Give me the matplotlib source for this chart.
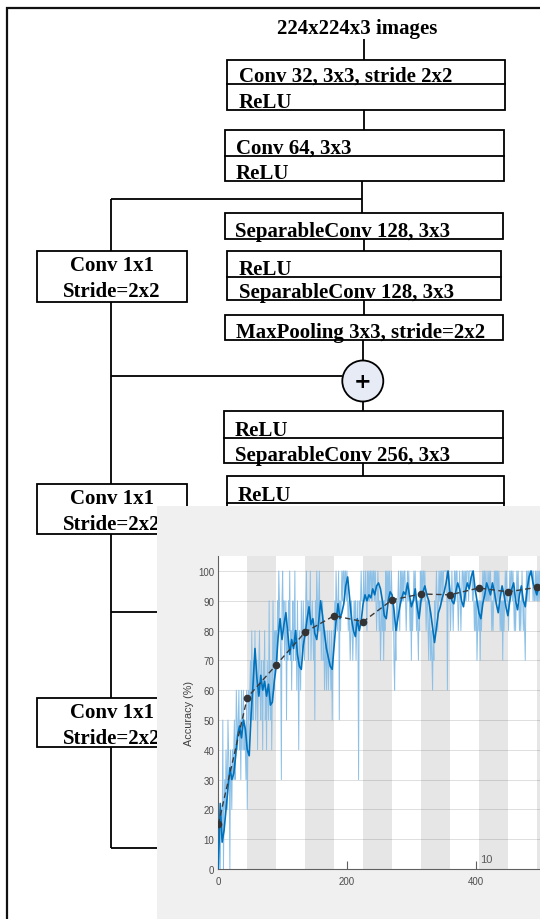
import numpy as np
import matplotlib
matplotlib.use("Agg")
import matplotlib.pyplot as plt
from matplotlib.patches import Rectangle, Circle

# ------------------------------------------------------------------ data
input_label = "224x224x3 images"
main_blocks = [
    ["Conv 32, 3x3, stride 2x2", "ReLU"],
    ["Conv 64, 3x3", "ReLU"],
    ["SeparableConv 128, 3x3"],
    ["ReLU", "SeparableConv 128, 3x3"],
    ["MaxPooling 3x3, stride=2x2"],
    ["ReLU", "SeparableConv 256, 3x3"],
    ["ReLU", "SeparableConv 256, 3x3"],
]
skip_labels = ["Conv 1x1", "Stride=2x2"]
add_symbol = "+"

iters_per_epoch = 45
raw_e01 = [0, 20, 10, 0, 20, 10, 10, 50, 0, 20, 30, 20, 40, 30, 20, 50, 40, 30, 0, 40,
           30, 20, 40, 30, 40, 50, 30, 40, 60, 50, 40, 50, 60, 40, 50, 30, 60, 40, 50, 60,
           40, 50, 40, 30, 60]
raw_e02 = [20, 40, 60, 50, 60, 70, 50, 80, 60, 50, 70, 60, 80, 50, 60, 70, 40, 60, 70, 80,
           60, 50, 70, 60, 40, 70, 60, 80, 50, 60, 40, 70, 60, 50, 90, 60, 50, 70, 40, 60,
           90, 70, 60, 80, 70]
raw_e03 = [80, 70, 90, 80, 100, 90, 80, 70, 30, 90, 100, 80, 90, 70, 80, 90, 50, 80, 70, 90,
           80, 100, 70, 80, 60, 80, 90, 70, 80, 100, 70, 80, 60, 90, 70, 40, 80, 70, 60, 90,
           80, 70, 90, 80, 70]
raw_e04 = [80, 90, 100, 80, 90, 70, 90, 80, 100, 70, 80, 90, 80, 70, 80, 50, 90, 80, 100, 90,
           80, 90, 100, 80, 90, 70, 80, 90, 70, 80, 60, 70, 80, 60, 70, 80, 60, 70, 80, 70,
           60, 80, 50, 70, 80]
raw_e05 = [80, 90, 80, 100, 90, 80, 90, 100, 50, 90, 80, 90, 100, 90, 100, 100, 90, 100, 100, 90,
           100, 90, 80, 90, 80, 70, 80, 90, 80, 70, 80, 90, 80, 90, 70, 80, 90, 80, 30, 90,
           80, 90, 100, 90, 90]
raw_e06 = [90, 100, 90, 90, 100, 90, 80, 100, 90, 100, 90, 100, 100, 90, 100, 90, 100, 100, 90, 100,
           90, 80, 90, 100, 90, 80, 90, 70, 80, 90, 80, 90, 70, 90, 80, 100, 90, 100, 90, 100,
           90, 100, 90, 90, 100]
raw_e07 = [90, 80, 90, 70, 60, 80, 70, 90, 80, 90, 100, 90, 80, 100, 90, 100, 90, 100, 90, 100,
           100, 90, 80, 90, 100, 90, 100, 90, 80, 90, 70, 90, 80, 90, 100, 90, 100, 90, 80, 90,
           80, 70, 90, 80, 100]
raw_e08 = [90, 100, 90, 100, 100, 90, 100, 90, 80, 90, 90, 80, 70, 90, 80, 70, 80, 70, 60, 80,
           70, 90, 80, 90, 100, 90, 80, 90, 100, 90, 100, 90, 100, 100, 90, 100, 100, 100, 100, 100,
           100, 60, 90, 100, 90]
raw_e09 = [90, 80, 90, 100, 90, 80, 90, 100, 100, 90, 100, 100, 90, 80, 90, 100, 90, 80, 90, 100,
           100, 90, 100, 90, 100, 90, 100, 100, 100, 90, 100, 100, 100, 100, 100, 90, 100, 90, 80, 90,
           80, 90, 70, 80, 90]
raw_e10 = [80, 90, 70, 90, 80, 90, 100, 90, 100, 100, 90, 100, 90, 90, 100, 90, 100, 90, 100, 90,
           80, 90, 80, 90, 100, 90, 100, 100, 90, 100, 90, 100, 90, 80, 90, 80, 90, 70, 90, 80,
           90, 100, 90, 100, 90]
raw_e11 = [90, 80, 90, 100, 90, 100, 100, 90, 100, 90, 80, 90, 80, 90, 100, 90, 100, 90, 80, 90,
           80, 90, 100, 90, 80, 90, 80, 70, 90, 100, 90, 100, 100, 90, 100, 100, 100, 100, 100, 90,
           100, 90, 90, 100, 90]
raw_e12 = [100, 90, 100, 90, 100, 90, 100, 100, 90, 100, 90, 100, 90, 100, 90, 100]

smooth_step = 3
smooth_acc = [0, 22, 9, 13, 20, 27, 34, 30, 32, 38, 45, 48, 44, 50, 47, 40, 38, 52, 62, 74,
              64, 58, 65, 60, 63, 58, 62, 55, 56, 63, 68, 78, 84, 77, 82, 86, 79, 72, 77, 74,
              80, 72, 68, 67, 75, 79, 84, 88, 82, 84, 79, 77, 83, 90, 85, 79, 74, 71, 68, 67,
              75, 83, 89, 84, 86, 89, 95, 98, 91, 84, 80, 78, 84, 80, 83, 89, 92, 90, 92, 91,
              94, 92, 95, 96, 94, 90, 85, 84, 90, 93, 92, 87, 80, 84, 88, 91, 93, 92, 96, 92,
              88, 90, 94, 88, 84, 90, 93, 95, 92, 90, 86, 81, 76, 81, 86, 88, 91, 93, 96, 100,
              93, 90, 89, 93, 96, 94, 90, 88, 93, 96, 94, 98, 100, 94, 90, 86, 84, 89, 92, 96,
              94, 92, 96, 93, 89, 86, 91, 95, 92, 88, 85, 90, 94, 96, 90, 87, 92, 95, 90, 88,
              94, 98, 100, 96, 94, 92, 95, 94, 96]

val_iter = [0, 45, 90, 135, 180, 225, 270, 315, 360, 405, 450, 495]
val_acc = [15, 57.5, 68.5, 79.5, 85, 83, 90.3, 92.3, 92, 94.3, 93, 94.5]

x_ticks = [0, 200, 400]
y_ticks = [0, 10, 20, 30, 40, 50, 60, 70, 80, 90, 100]
y_label = "Accuracy (%)"
epoch_label = "10"
epoch_label_index = 10

# ------------------------------------------------------------------ layout (pixels)
W, H = 540, 920
fig = plt.figure(figsize=(W / 100, H / 100), dpi=100)
fig.patch.set_facecolor("white")

dax = fig.add_axes([0, 0, 1, 1])
dax.set_xlim(0, W)
dax.set_ylim(H, 0)
dax.axis("off")

LW = 1.3
serif = dict(family="Liberation Serif", weight="bold", fontsize=15, color="black")

# frame
dax.plot([6.7, 6.7, W + 5], [H + 5, 9.3, 9.3], color="#111111", lw=1.6,
         solid_joinstyle="miter", clip_on=False)

dax.text(357, 34, input_label, ha="center", va="baseline", **serif)

main_geom = [
    (226.7, 505.0, [60.7, 85.0, 110.5]),
    (224.7, 503.5, [130.7, 156.7, 181.7]),
    (225.0, 503.3, [214.0, 240.0]),
    (226.7, 501.3, [252.3, 278.3, 301.0]),
    (225.0, 503.3, [315.7, 341.0]),
    (224.0, 502.7, [412.3, 439.0, 464.0]),
    (226.7, 504.3, [477.3, 504.0, 530.0]),
]
text_pad = [12, 11, 10, 12, 11, 11, 11]
for labels, (x0, x1, rows), pad in zip(main_blocks, main_geom, text_pad):
    dax.add_patch(Rectangle((x0, rows[0]), x1 - x0, rows[-1] - rows[0],
                            fill=False, ec="black", lw=LW))
    for i, lab in enumerate(labels):
        if i > 0:
            dax.plot([x0, x1], [rows[i], rows[i]], color="black", lw=LW)
        dax.text(x0 + pad, rows[i + 1] - 3, lab, ha="left", va="baseline", **serif)

skip_geom = [(252.3, 303.3), (485.0, 535.0), (699.0, 748.3)]
for top, bot in skip_geom:
    dax.add_patch(Rectangle((36.8, top), 186.6 - 36.8, bot - top,
                            fill=False, ec="black", lw=LW))
    dax.text(111.5, top + 19, skip_labels[0], ha="center", va="baseline", **serif)
    dax.text(111.5, top + 45, skip_labels[1], ha="center", va="baseline", **serif)

segments = [
    ([364, 364], [40, 60.7]),
    ([364, 364], [110.5, 130.7]),
    ([362, 362], [181.7, 214]),
    ([111.2, 362], [200, 200]),
    ([111.2, 111.2], [200, 252.3]),
    ([364, 364], [240, 252.3]),
    ([364, 364], [301, 315.7]),
    ([362.8, 362.8], [341, 362]),
    ([111.2, 111.2], [303.3, 485]),
    ([111.2, 342], [376.7, 376.7]),
    ([363, 363], [402, 412.3]),
    ([363, 363], [464, 477.3]),
    ([111.2, 111.2], [535, 699]),
    ([111.2, 363], [613.3, 613.3]),
    ([111.2, 111.2], [748.3, 849]),
    ([111.2, 363], [849, 849]),
]
for xs, ys in segments:
    dax.plot(xs, ys, color="black", lw=LW, solid_capstyle="butt")

dax.add_patch(Circle((362.8, 382), 20.5, fc="#e6ebf5", ec="black", lw=LW, zorder=3))
dax.text(362.8, 382.5, add_symbol, ha="center", va="center", family="DejaVu Sans",
         weight="bold", fontsize=15, zorder=4)

# ------------------------------------------------------------------ inset chart
inset_left, inset_top = 157, 507
bg = fig.add_axes([inset_left / W, 0, (W - inset_left) / W, (H - inset_top) / H])
bg.set_facecolor("#f0f0f0")
bg.set_xticks([])
bg.set_yticks([])
for s in bg.spines.values():
    s.set_visible(False)

px_per_iter = 128.7 / 200
px_per_pct = 2.98
x_max, y_max = 560, 105
ax_left, ax_bottom = 218.3, 870
ax = fig.add_axes([ax_left / W, (H - ax_bottom) / H,
                   x_max * px_per_iter / W, y_max * px_per_pct / H])
ax.set_facecolor("white")

n_epochs = x_max // iters_per_epoch + 1
for e in range(1, n_epochs, 2):
    ax.axvspan(e * iters_per_epoch, (e + 1) * iters_per_epoch, color="#e6e6e6", lw=0, zorder=0)

ax.set_axisbelow(True)
ax.yaxis.grid(True, color="#262626", alpha=0.15, lw=0.7)
ax.xaxis.grid(False)

raw_acc = (raw_e01 + raw_e02 + raw_e03 + raw_e04 + raw_e05 + raw_e06 + raw_e07 + raw_e08
           + raw_e09 + raw_e10 + raw_e11 + raw_e12)
ax.plot(np.arange(len(raw_acc)), raw_acc, color="#8cc0e6", lw=0.7, zorder=2)
ax.plot(np.arange(len(smooth_acc)) * smooth_step, smooth_acc, color="#0072BD", lw=1.2, zorder=3)
ax.plot(val_iter, val_acc, ls="--", dashes=(4, 2.5), color="#3a3a3a", lw=1.0, marker="o",
        ms=4.5, mfc="#333333", mec="#333333", zorder=4)

for side in ("top", "right"):
    ax.spines[side].set_visible(False)
for side in ("left", "bottom"):
    ax.spines[side].set_color("#5f5f5f")
    ax.spines[side].set_linewidth(0.8)

ax.set_xticks(x_ticks)
ax.set_yticks(y_ticks)
ax.set_xlim(0, x_max)
ax.set_ylim(0, y_max)
sans = "Liberation Sans"
ax.tick_params(axis="x", direction="in", length=6, width=0.8, color="#5f5f5f",
               labelsize=7, labelcolor="#4d4d4d", pad=5)
ax.tick_params(axis="y", direction="in", length=0, labelsize=7, labelcolor="#4d4d4d", pad=3)
for lab in ax.get_xticklabels() + ax.get_yticklabels():
    lab.set_family(sans)
ax.set_ylabel(y_label, fontsize=7.8, color="#404040", family=sans, labelpad=3)

ax.text((epoch_label_index - 1) * iters_per_epoch + 2, 2.3, epoch_label, fontsize=8,
        color="#5a5a5a", family=sans, va="baseline", ha="left")

fig.savefig("out.png", dpi=100)
